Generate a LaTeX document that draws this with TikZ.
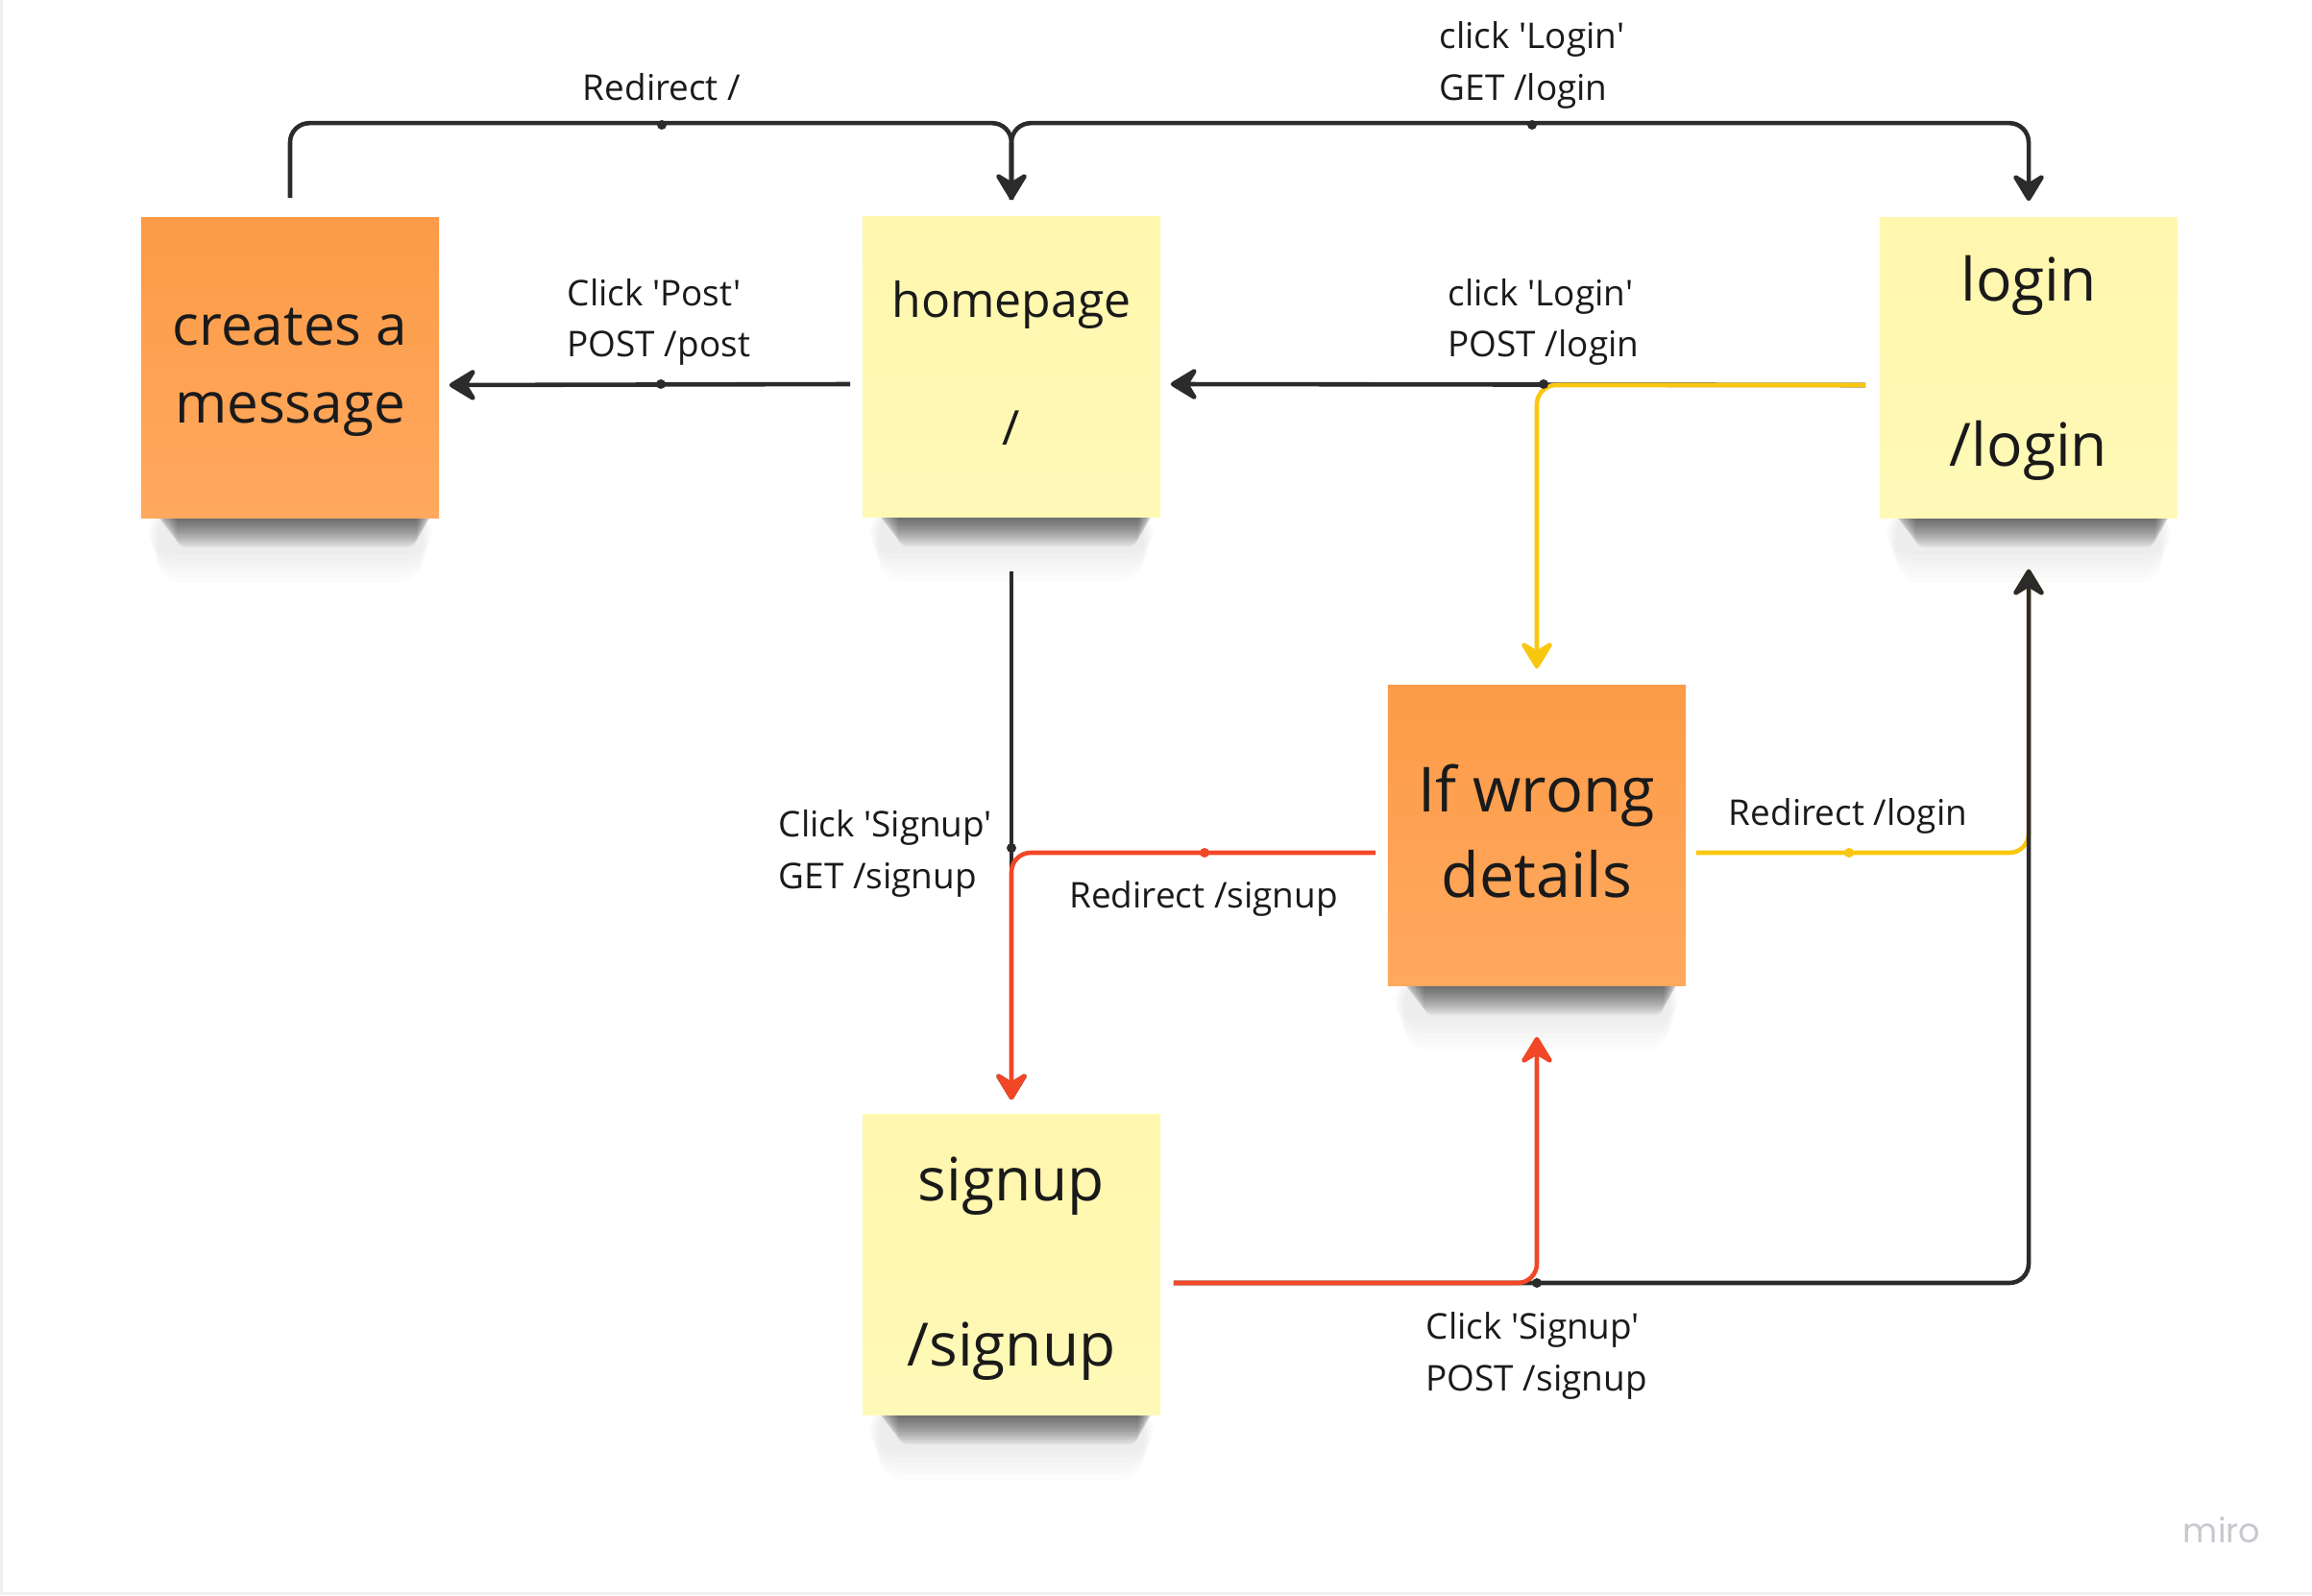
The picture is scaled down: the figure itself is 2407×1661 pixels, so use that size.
\documentclass[tikz,border=0pt]{standalone}
\usepackage{fontspec}
\setmainfont{Open Sans}[Ligatures=TeXOff]
\newfontfamily\logofont{Poppins}
\usetikzlibrary{arrows.meta,calc}

\definecolor{ink}{HTML}{1A1A1A}
\definecolor{conn}{HTML}{2B2B2B}
\definecolor{mred}{HTML}{F24726}
\definecolor{myel}{HTML}{FAC710}
\definecolor{stickyY}{HTML}{FFF7AE}
\definecolor{stickyYb}{HTML}{FFF9B8}
\definecolor{stickyO}{HTML}{FC9B48}
\definecolor{stickyOb}{HTML}{FFA95E}
\definecolor{edgegray}{HTML}{EFEFEF}
\definecolor{logogray}{HTML}{C8C8D0}

\begin{document}
\begin{tikzpicture}[x=0.01cm,y=-0.01cm,
  note/.style={minimum width=3.1cm, minimum height=3.12cm, inner sep=0pt},
  noteY/.style={note, top color=stickyY, bottom color=stickyYb},
  noteO/.style={note, top color=stickyO, bottom color=stickyOb},
  notetext/.style={align=center, text=ink, inner sep=0pt},
  wire/.style={line width=1.3pt, rounded corners=0.2cm, line cap=butt},
  tip/.style={-{Stealth[length=9.5pt,width=11.5pt,inset=3.5pt,round]}},
  dot/.style={circle, inner sep=0pt, minimum size=0.1cm},
  lbl/.style={font=\fontsize{10.5}{13}\selectfont, text=ink, inner sep=0pt},
  shadowlayer/.style={fill=black, opacity=0.06, rounded corners=0.1cm},
  hazelayer/.style={fill=black, opacity=0.012, rounded corners=0.25cm},
]
\useasboundingbox (0,0) rectangle (2407,1661);
\fill[white] (0,0) rectangle (2407,1661);
\fill[edgegray] (0,0) rectangle (3,1661);
\fill[edgegray] (0,1658) rectangle (2407,1661);

% note shadows (drawn under the notes)
\foreach \cx/\by in {302/539, 1053/538, 2112/539, 1600/1026, 1053/1473}{
  \foreach \k in {1,...,6}{
    \fill[hazelayer] ({\cx-150+2*\k},{\by-8}) rectangle ({\cx+150-2*\k},{\by+32+6*\k});
  }
  \foreach \k in {1,...,12}{
    \fill[shadowlayer] ({\cx-142+2*\k},{\by-8}) rectangle ({\cx+150-1.5*\k},{\by+2.6*\k});
  }
}

% sticky notes
\node[noteO] (creates) at (302,383) {};
\node[noteY] (home) at (1053,382) {};
\node[noteY] (login) at (2112,383) {};
\node[noteO] (ifwrong) at (1600,870) {};
\node[noteY] (signup) at (1053,1317) {};

\node[notetext, font=\fontsize{16.6}{23}\selectfont] (createsT) at ($(creates.center)+(0,5)$) {creates a\\message};
\node[notetext, font=\fontsize{14.2}{18.8}\selectfont] (homeT) at ($(home.center)+(0,-4)$) {homepage\\\mbox{}\\/};
\node[notetext, font=\fontsize{17.7}{24.5}\selectfont] (loginT) at ($(login.center)+(0,0)$) {login\\\mbox{}\\/login};
\node[notetext, font=\fontsize{18.4}{25.3}\selectfont] (ifwrongT) at ($(ifwrong.center)+(0,-4)$) {If wrong\\details};
\node[notetext, font=\fontsize{17.7}{24.5}\selectfont] (signupT) at ($(signup.center)+(0,4)$) {signup\\\mbox{}\\/signup};

% connectors
\draw[wire, conn, tip] ($(creates.north)+(0,-20)$) |- ($(home.north)+(0,-97)$) -- ($(home.north)+(0,-17)$);
\draw[wire, conn, tip] ($(home.north)+(0,-17)$) -- ($(home.north)+(0,-97)$) -| ($(login.north)+(0,-17)$);
\draw[wire, conn, tip] ($(home.west)+(-12,18)$) -- ($(creates.east)+(10,18)$);
\draw[wire, conn, tip] ($(login.west)+(-14,18)$) -- ($(home.east)+(10,18)$);
\draw[wire, myel, tip] ($(login.west)+(-14,18)$) -| ($(ifwrong.north)+(0,-17)$);
\draw[wire, conn, tip] ($(home.south)+(0,56)$) -- ($(signup.north)+(0,-15)$);
\draw[wire, mred, tip] ($(ifwrong.west)+(-12,18)$) -| ($(signup.north)+(0,-15)$);
\draw[wire, myel, tip] ($(ifwrong.east)+(10,18)$) -| ($(login.south)+(0,53)$);
\draw[wire, conn, tip] ($(signup.east)+(13,19)$) -| ($(login.south)+(0,53)$);
\draw[wire, mred, tip] ($(signup.east)+(13,19)$) -| ($(ifwrong.south)+(0,53)$);

% midpoint dots
\node[dot, fill=conn] (d1) at (689,130) {};
\node[dot, fill=conn] (d2) at (1595,130) {};
\node[dot, fill=conn] (d3) at (688,400) {};
\node[dot, fill=conn] (d4) at (1607,400) {};
\node[dot, fill=conn] (d5) at (1053,883) {};
\node[dot, fill=mred] (d6) at (1254,888) {};
\node[dot, fill=myel] (d7) at (1925,888) {};
\node[dot, fill=conn] (d8) at (1600,1336) {};

% labels
\node[lbl, anchor=base] (l1) at (689,105) {Redirect /};
\node[lbl, anchor=base west] (l2a) at (1498,51) {click 'Login'};
\node[lbl, anchor=base west] (l2b) at (1498,105) {GET /login};
\node[lbl, anchor=base west] (l3a) at (590,318) {Click 'Post'};
\node[lbl, anchor=base west] (l3b) at (590,372) {POST /post};
\node[lbl, anchor=base west] (l4a) at (1507,318) {click 'Login'};
\node[lbl, anchor=base west] (l4b) at (1507,372) {POST /login};
\node[lbl, anchor=base west] (l5a) at (810,871) {Click 'Signup'};
\node[lbl, anchor=base west] (l5b) at (810,925) {GET /signup};
\node[lbl, anchor=base] (l6) at (1253,945) {Redirect /signup};
\node[lbl, anchor=base] (l7) at (1924,859) {Redirect /login};
\node[lbl, anchor=base west] (l8a) at (1484,1394) {Click 'Signup'};
\node[lbl, anchor=base west] (l8b) at (1484,1448) {POST /signup};

% logo
\node[font=\logofont\fontsize{10}{12}\selectfont, text=logogray, inner sep=0pt] (logo) at (2313,1593) {miro};
\end{tikzpicture}
\end{document}
